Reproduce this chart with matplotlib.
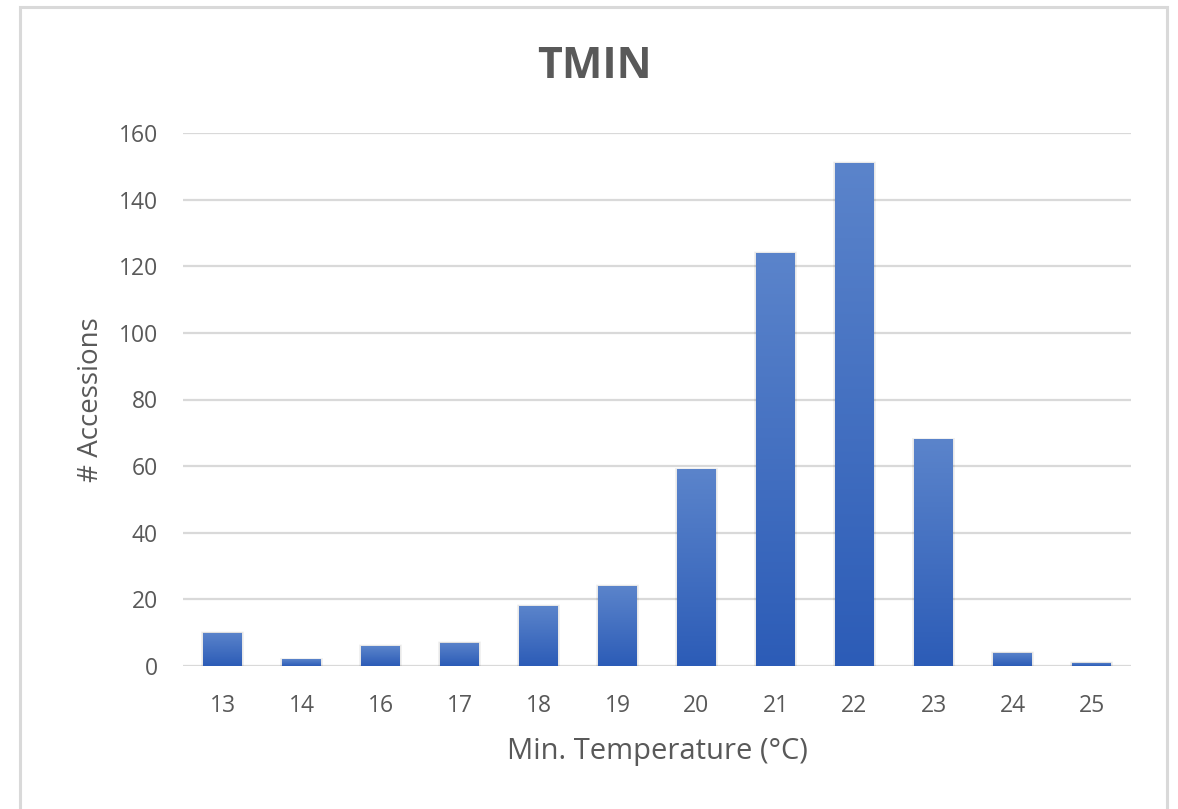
import numpy as np
import matplotlib
matplotlib.use("Agg")
import matplotlib.pyplot as plt
from matplotlib.patches import Rectangle
from matplotlib.colors import LinearSegmentedColormap

categories = ["13", "14", "16", "17", "18", "19", "20", "21", "22", "23", "24", "25"]
values = [10, 2, 6, 7, 18, 24, 59, 124, 151, 68, 4, 1]
y_ticks = [0, 20, 40, 60, 80, 100, 120, 140, 160]

plt.rcParams['font.family'] = ['Open Sans', 'DejaVu Sans']
W, H = 1178, 809
fig = plt.figure(figsize=(W / 100, H / 100), dpi=100)
fig.patch.set_facecolor("white")

# chart border
fig.add_artist(Rectangle((20 / W, -0.05), (1167 - 20) / W, 1.05 - 7 / H,
                         transform=fig.transFigure, fill=False,
                         edgecolor="#d9d9d9", linewidth=2.2, clip_on=False))

ax = fig.add_axes([183 / W, 1 - 666 / H, (1131 - 183) / W, (666 - 133) / H])
x = np.arange(len(categories))

for yv in y_ticks:
    ax.axhline(yv, color="#d9d9d9", linewidth=1.6, zorder=0)

grad_cmap = LinearSegmentedColormap.from_list("g", ["#2c5cb7", "#5b84cb"])
width = 0.49
# soft shadow
for i, v in enumerate(values):
    for k, a in zip([0.10, 0.07, 0.04, 0.02], [0.025, 0.03, 0.035, 0.04]):
        ax.add_patch(Rectangle((x[i] - width / 2 - k * 0.3, 0), width + 2 * k * 0.3,
                               v + k * 5, facecolor="black", alpha=a,
                               edgecolor="none", zorder=1))
bars = ax.bar(x, values, width=width, color="#4472c4", zorder=2, linewidth=0)
grad = np.linspace(0, 1, 256).reshape(-1, 1)
for b in bars:
    x0, y0 = b.get_x(), b.get_y()
    im = ax.imshow(grad, cmap=grad_cmap, aspect="auto", origin="lower",
                   extent=[x0, x0 + b.get_width(), y0, y0 + b.get_height()],
                   zorder=3)
    im.set_clip_path(b)

ax.set_xlim(-0.5, len(categories) - 0.5)
ax.set_ylim(0, 160)

for s in ax.spines.values():
    s.set_visible(False)
ax.set_xticks(x)
ax.set_xticklabels(categories)
ax.set_yticks(y_ticks)
ax.tick_params(axis="both", length=0, labelcolor="#595959", labelsize=16.5)
ax.tick_params(axis="x", pad=20)
ax.tick_params(axis="y", pad=18)

ax.set_xlabel("Min. Temperature (°C)", fontsize=21, color="#595959", labelpad=14)
ax.set_ylabel("# Accessions", fontsize=20, color="#595959", labelpad=10)
fig.text(594 / W, 1 - 66 / H, "TMIN", ha="center", va="center",
         fontsize=31, fontweight="bold", color="#595959")

fig.savefig("out.png", dpi=100, facecolor="white")
